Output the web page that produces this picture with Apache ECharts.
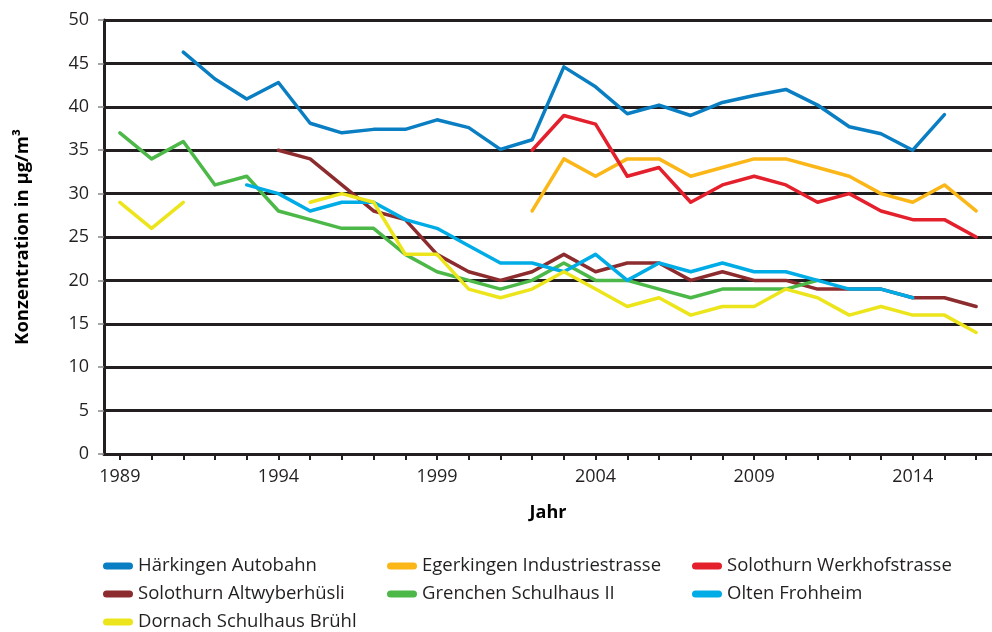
<!DOCTYPE html>
<html>
<head>
<meta charset="utf-8">
<script src="https://cdn.jsdelivr.net/npm/echarts@6/dist/echarts.min.js"></script>
<style>
  html, body { margin: 0; padding: 0; background: #fff; }
  #chart { width: 992px; height: 632px; }
</style>
</head>
<body>
<div id="chart"></div>
<script>
var myChart = echarts.init(document.getElementById('chart'));

// years 1989 - 2016
const years = [];
for (let y = 1989; y <= 2016; y++) years.push(String(y));

const yTicks = [0, 5, 10, 15, 20, 25, 30, 35, 40, 45, 50];

const haerkingen = [null, null, 46.3, 43.2, 40.9, 42.8, 38.1, 37.0, 37.4, 37.4, 38.5, 37.6, 35.1, 36.2, 44.6, 42.3, 39.2, 40.2, 39.0, 40.5, 41.3, 42.0, 40.2, 37.7, 36.9, 35.0, 39.1, null];
const egerkingen = [null, null, null, null, null, null, null, null, null, null, null, null, null, 28, 34, 32, 34, 34, 32, 33, 34, 34, 33, 32, 30, 29, 31, 28];
const werkhof = [null, null, null, null, null, null, null, null, null, null, null, null, null, 35, 39, 38, 32, 33, 29, 31, 32, 31, 29, 30, 28, 27, 27, 25];
const altwyber = [null, null, null, null, null, 35, 34, 31, 28, 27, 23, 21, 20, 21, 23, 21, 22, 22, 20, 21, 20, 20, 19, 19, 19, 18, 18, 17];
const grenchen = [37, 34, 36, 31, 32, 28, 27, 26, 26, 23, 21, 20, 19, 20, 22, 20, 20, 19, 18, 19, 19, 19, 20, null, null, null, null, null];
const olten = [null, null, null, null, 31, 30, 28, 29, 29, 27, 26, 24, 22, 22, 21, 23, 20, 22, 21, 22, 21, 21, 20, 19, 19, 18, null, null];
const dornach = [29, 26, 29, null, null, null, 29, 30, 29, 23, 23, 19, 18, 19, 21, 19, 17, 18, 16, 17, 17, 19, 18, 16, 17, 16, 16, 14];

const names = ['Härkingen Autobahn', 'Egerkingen Industriestrasse', 'Solothurn Werkhofstrasse',
  'Solothurn Altwyberhüsli', 'Grenchen Schulhaus II', 'Olten Frohheim', 'Dornach Schulhaus Brühl'];
const colors = ['#0a7ec2', '#fbb617', '#e4202c', '#8d2c2e', '#4cb848', '#00ace6', '#ede51b'];
const values = [haerkingen, egerkingen, werkhof, altwyber, grenchen, olten, dornach];

const font = "'Open Sans', 'Noto Sans', sans-serif";
const ink = '#231f20';
const capsule = 'path://M3.5,0 L26.5,0 A3.5,3.5 0 0 1 26.5,7 L3.5,7 A3.5,3.5 0 0 1 3.5,0 Z';

function legendColumn(left, items) {
  return {
    orient: 'vertical',
    left: left,
    top: 556,
    height: 120,
    padding: 0,
    data: items,
    icon: capsule,
    itemWidth: 30,
    itemHeight: 7,
    itemGap: 8,
    selectedMode: false,
    textStyle: { fontFamily: font, fontSize: 18.5, color: ink, lineHeight: 20 }
  };
}

var option = {
  animation: false,
  color: colors,
  grid: { left: 104, right: -5, top: 20, bottom: 178, containLabel: false },
  legend: [
    legendColumn(103, [names[0], names[3], names[6]]),
    legendColumn(387, [names[1], names[4]]),
    legendColumn(692, [names[2], names[5]])
  ],
  xAxis: {
    type: 'category',
    data: years,
    boundaryGap: true,
    name: 'Jahr',
    nameLocation: 'middle',
    nameGap: 50,
    nameTextStyle: { fontFamily: font, fontSize: 18, fontWeight: 'bold', color: '#000' },
    axisLine: { lineStyle: { color: ink, width: 3 } },
    axisTick: { show: true, alignWithLabel: true, interval: 0, length: 6, lineStyle: { color: ink, width: 2 } },
    axisLabel: { interval: 4, margin: 14, fontFamily: font, fontSize: 18, color: ink },
    splitLine: { show: false }
  },
  yAxis: {
    type: 'value',
    min: yTicks[0],
    max: yTicks[yTicks.length - 1],
    interval: 5,
    name: 'Konzentration in µg/m³',
    nameLocation: 'middle',
    nameRotate: 90,
    nameGap: 72,
    nameTextStyle: { fontFamily: font, fontSize: 18.5, fontWeight: 'bold', color: '#000' },
    axisLine: { show: true, lineStyle: { color: ink, width: 3 } },
    axisTick: { show: true, length: 6, lineStyle: { color: '#888', width: 1.5 } },
    axisLabel: { margin: 15, fontFamily: font, fontSize: 18, color: ink },
    splitLine: { show: true, lineStyle: { color: ink, width: 3 } }
  },
  series: names.map(function (n, i) {
    return {
      name: n,
      type: 'line',
      data: values[i],
      symbol: 'none',
      connectNulls: false,
      lineStyle: { width: 3.5, color: colors[i], cap: 'round', join: 'round' },
      itemStyle: { color: colors[i] }
    };
  })
};

myChart.setOption(option);
</script>
</body>
</html>
